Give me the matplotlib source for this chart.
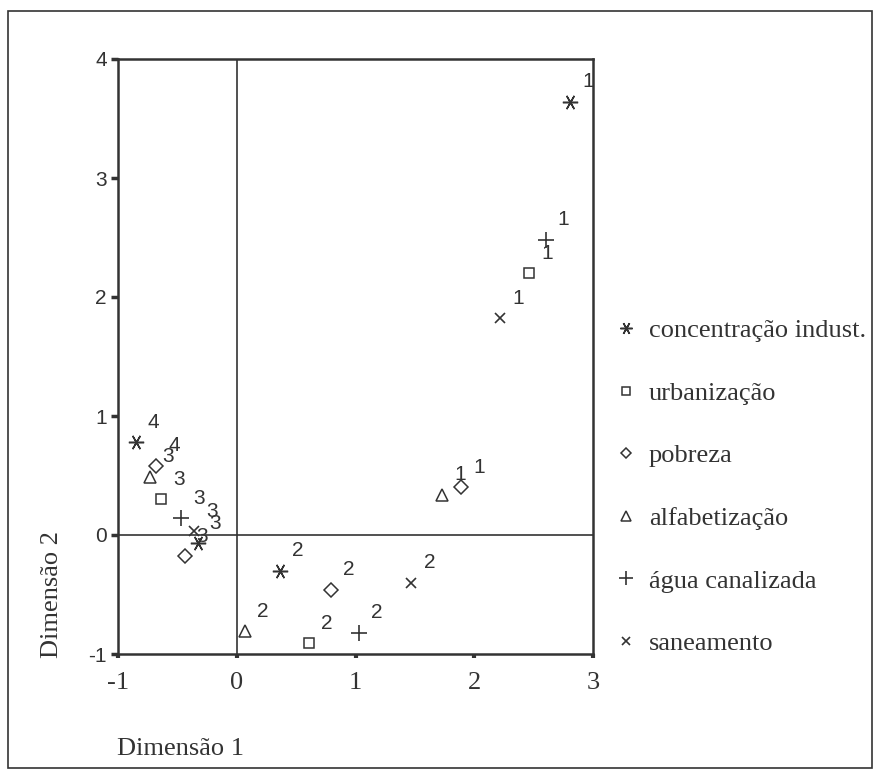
import matplotlib
matplotlib.use('Agg')
import matplotlib.pyplot as plt
from matplotlib.patches import Rectangle

# coordenadas das categorias em cada variável (dimensão 1, dimensão 2)
variaveis = ['concentração indust.', 'urbanização', 'pobreza',
             'alfabetização', 'água canalizada', 'saneamento']

conc_x = [2.81, 0.36, -0.33, -0.85]
conc_y = [3.64, -0.30, -0.07, 0.78]
urb_x = [2.46, 0.61, -0.64]
urb_y = [2.20, -0.91, 0.30]
pob_x = [1.89, 0.79, -0.44, -0.68]
pob_y = [0.40, -0.46, -0.18, 0.58]
alf_x = [1.73, 0.07, -0.73]
alf_y = [0.34, -0.81, 0.49]
agua_x = [2.60, 1.03, -0.47]
agua_y = [2.48, -0.82, 0.14]
san_x = [2.22, 1.47, -0.36]
san_y = [1.82, -0.40, 0.03]

x_ticks = [-1, 0, 1, 2, 3]
y_ticks = [-1, 0, 1, 2, 3, 4]

serif = 'Liberation Serif'
sans = 'Liberation Sans'
cor = '#333333'

fig = plt.figure(figsize=(8.8, 7.76), dpi=100)
ax = fig.add_axes([118/880, 1 - 654/776, 475/880, 595/776])

estilos = [
    dict(marker=(6, 2, 90), ms=11, mew=1.1),
    dict(marker='s', ms=7, mew=1.1),
    dict(marker='D', ms=7, mew=1.1),
    dict(marker='^', ms=9, mew=1.1),
    dict(marker='+', ms=12, mew=1.2),
    dict(marker='x', ms=7.5, mew=1.2),
]
dados = [(conc_x, conc_y), (urb_x, urb_y), (pob_x, pob_y),
         (alf_x, alf_y), (agua_x, agua_y), (san_x, san_y)]

ax.axhline(0, color=cor, lw=1.2, zorder=1)
ax.axvline(0, color=cor, lw=1.2, zorder=1)

handles = []
for nome, (xs, ys), st in zip(variaveis, dados, estilos):
    h, = ax.plot(xs, ys, ls='none', color=cor, mfc='none', label=nome, zorder=3, **st)
    handles.append(h)
    for i, (x, y) in enumerate(zip(xs, ys)):
        ax.annotate(str(i + 1), (x, y), xytext=(18, 20), textcoords='offset pixels',
                    ha='center', va='center', fontsize=15, family=sans, color=cor)

ax.set_xlim(-1, 3)
ax.set_ylim(-1, 4)
ax.set_xticks(x_ticks)
ax.set_yticks(y_ticks)
ax.set_xticklabels([str(t) for t in x_ticks], family=serif, fontsize=19, color=cor)
ax.set_yticklabels([str(t) for t in y_ticks], family=sans, fontsize=15, color=cor)
ax.tick_params(axis='x', length=3, width=3, color=cor, pad=10)
ax.tick_params(axis='y', length=5, width=2.5, color=cor, pad=3)
for s in ax.spines.values():
    s.set_color(cor)
    s.set_linewidth(1.8)

fig.text(52/880, 1 - 594/776, 'Dimensão 2', rotation=90, ha='center', va='center',
         family=serif, fontsize=19, color=cor)
fig.text(117/880, 1 - 749/776, 'Dimensão 1', ha='left', va='center',
         family=serif, fontsize=19, color=cor)

leg = fig.legend(handles=handles, loc='center left', bbox_to_anchor=(617/880, 1 - 487/776),
                 frameon=False, prop={'family': serif, 'size': 19}, handlelength=0.7,
                 handletextpad=0.5, labelspacing=1.48, borderpad=0, borderaxespad=0,
                 markerscale=0.8)
for t in leg.get_texts():
    t.set_color(cor)

fig.patches.append(Rectangle((8/880, 8/776), 864/880, 757/776, transform=fig.transFigure,
                             fill=False, ec=cor, lw=1.2))

fig.savefig('out.png', dpi=100)
